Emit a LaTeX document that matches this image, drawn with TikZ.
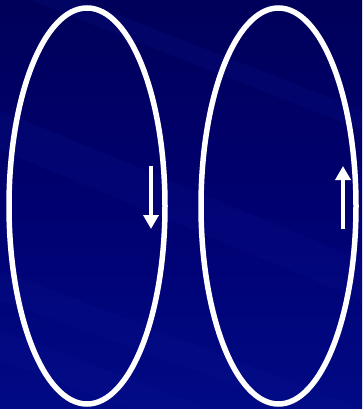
\documentclass[tikz,border=0pt]{standalone}
\usepackage{xcolor}
\usepackage{tikz}
\usetikzlibrary{arrows.meta,positioning,shapes.geometric}
\definecolor{cDeep}{HTML}{00005A}
\definecolor{cMid}{HTML}{000070}
\definecolor{cLow}{HTML}{000A85}
\definecolor{cBand}{HTML}{0A1490}
\tikzset{
  loop/.style={draw=white,line width=5.5pt,ellipse,minimum width=#1,minimum height=396pt,inner sep=0pt},
  loop/.default=156pt,
  curr/.style={-{Triangle[length=14pt,width=15pt]},line width=4pt,draw=white,fill=white},
  band/.style={fill=cBand,opacity=0.2},
}
\begin{document}
\begin{tikzpicture}[x=1pt,y=-1pt]
    % background
    \shade[top color=cDeep,bottom color=cLow,middle color=cMid] (0,0) rectangle (362,409);
    \useasboundingbox (0,0) rectangle (362,409);
    \fill[band] (0,110) -- (362,260) -- (362,300) -- (0,150) -- cycle;
    \fill[band] (0,270) -- (362,409) -- (300,409) -- (0,300) -- cycle;
    \fill[band] (80,0) -- (362,110) -- (362,130) -- (30,0) -- cycle;
    \fill[band] (0,330) -- (210,409) -- (130,409) -- (0,360) -- cycle;
    % coils
    \node[loop] (c1) at (87,206) {};
    \node[loop=155pt] (c2) at (278.5,206) {};
    % current directions
    \coordinate (d1) at (151,166);
    \coordinate (d2) at (151,229);
    \coordinate (u1) at (343,229);
    \coordinate (u2) at (343,166);
    \draw[curr] (d1) -- (d2);
    \draw[curr] (u1) -- (u2);
\end{tikzpicture}
\end{document}
